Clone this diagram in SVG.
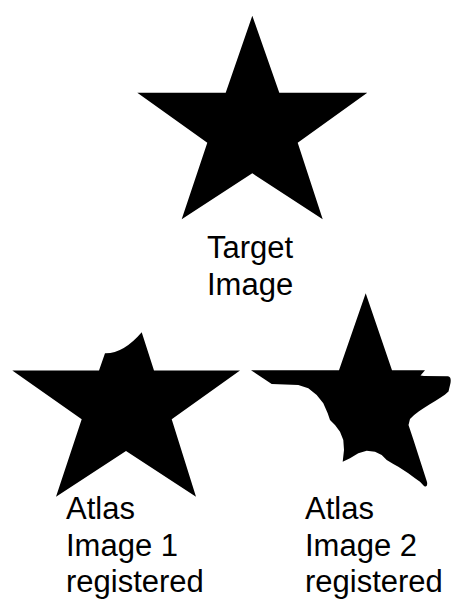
<svg xmlns="http://www.w3.org/2000/svg" width="452" height="599" viewBox="0 0 452 599">
<style>
.star{fill:#000;stroke:none}
.lbl{font-family:"Liberation Sans",Arial,sans-serif;font-size:31px;fill:#000}
</style>
<rect x="0" y="0" width="452" height="599" fill="#fff"/>
<g id="target">
<path class="star" d="M252.3,15.7 L279.3,92.7 L367.3,92.7 L297.7,142.7 L322.7,219.3 L252.3,173.3 L181.7,219.3 L207.3,142.7 L137.3,92.7 L225.7,92.7 Z"/>
<text class="lbl" x="207" y="258">Target</text>
<text class="lbl" x="207" y="295">Image</text>
</g>
<g id="atlas1">
<path class="star" d="M99,370.5 L105,353.3 Q123.3,353.8 141.7,332.3 L154,370.5 L240,370.5 L171.7,419.3 L196,496.7 L126,451 L56,496.7 L81.7,419.3 L12.3,370.5 Z"/>
<text class="lbl" x="66" y="519">Atlas</text>
<text class="lbl" x="66" y="556">Image 1</text>
<text class="lbl" x="66" y="592">registered</text>
</g>
<g id="atlas2">
<path class="star" d="M365.7,293.3 L392,370.3 L425,370.3 L420.5,375.5 L424,376 L448,376.3 Q451.5,377 450.5,383 L448.5,391.5 C440,400 420,408 410,419 L408.5,425 L413.5,440 L427,482 Q428,488 424,486 L420,481.7 L415,478.3 L408.3,473.3 L403.3,470 L398.3,466.7 L393.3,464 L386.7,460 L381.7,455 L375,451.7 L366.7,450.7 L358.3,453.3 L350,458.3 L342.7,461.7 L344,450 L343.3,440 L340,431.7 L335,425 L330,420 L327.7,413.3 L323.3,403.3 L316.7,395 L308.3,388.3 L298.3,385 L271.7,384 L251,370.3 L339,370.3 Z"/>
<text class="lbl" x="305" y="519">Atlas</text>
<text class="lbl" x="305" y="556">Image 2</text>
<text class="lbl" x="305" y="592">registered</text>
</g>
</svg>
